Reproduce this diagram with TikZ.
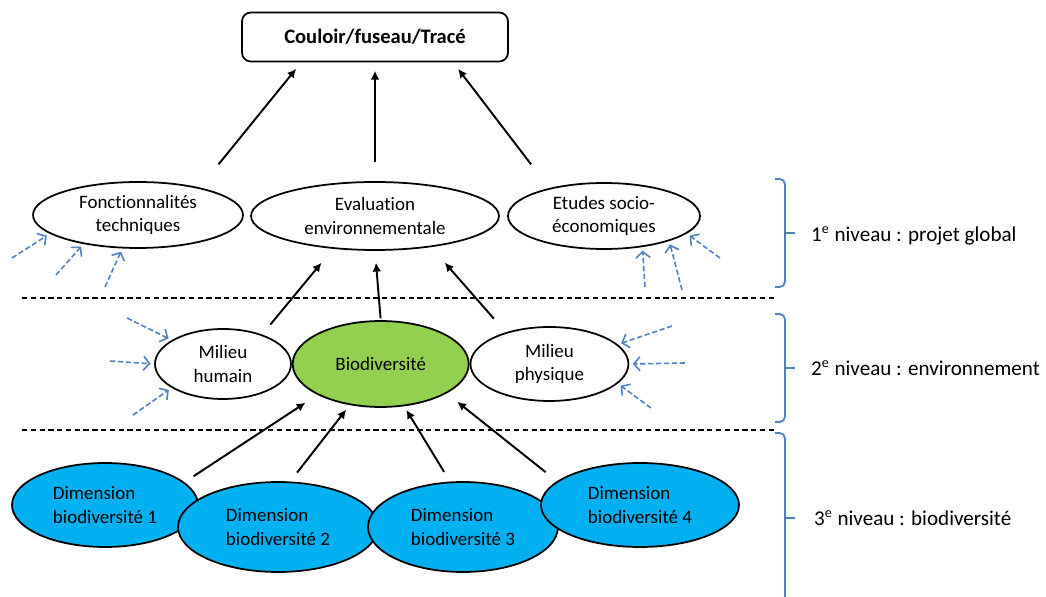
\documentclass[tikz,border=0pt]{standalone}
\usepackage{fontspec}
\setmainfont{Carlito}[Ligatures=NoCommon]
\usepackage{tikz}
\definecolor{leafGreen}{HTML}{92D050}
\definecolor{skyBlue}{HTML}{00B0F0}
\definecolor{steelBlue}{HTML}{4F81BD}
\usetikzlibrary{shapes.geometric, arrows.meta, positioning}

\begin{document}
\begin{tikzpicture}[
    x=0.02cm, y=-0.02cm,
    every node/.style={font=\fontsize{10.8}{13.3}\selectfont},
    corridorbox/.style={rectangle, rounded corners=5pt, draw, line width=1pt, minimum width=5.32cm, minimum height=0.98cm, font=\fontsize{11.7}{14}\selectfont\bfseries},
    oval/.style={ellipse, draw, line width=1pt, inner sep=0pt, align=center},
    greenoval/.style={oval, fill=leafGreen},
    blueoval/.style={oval, fill=skyBlue, align=left},
    arrow/.style={-{Latex[length=5pt, width=5pt]}, line width=1.1pt},
    influence/.style={-{Straight Barb[length=3.5pt, width=8pt]}, steelBlue, line width=0.9pt, dash pattern=on 3pt off 1.5pt, shorten >=2pt},
    sepline/.style={line width=1.1pt, dash pattern=on 3pt off 2pt},
    brace/.style={steelBlue, line width=1pt, rounded corners=3pt},
    level/.style={anchor=west, font=\fontsize{12}{14}\selectfont}
]
    \useasboundingbox (0,0) rectangle (1046,597);

    % top of the tree
    \node[corridorbox] (corridor) at (375,37) {Couloir/fuseau/Tracé};

    % 1st level
    \node[oval, minimum width=4.2cm, minimum height=1.32cm] (fonct) at (138,215) {Fonctionnalités\\techniques};
    \node[oval, minimum width=4.96cm, minimum height=1.36cm] (eval) at (375,216) {Evaluation\\environnementale};
    \node[oval, minimum width=3.84cm, minimum height=1.32cm] (etudes) at (604,216) {Etudes socio-\\économiques};

    % 2nd level
    \node[oval, minimum width=2.72cm, minimum height=1.4cm] (humain) at (223,364) {Milieu\\humain};
    \node[greenoval, minimum width=3.52cm, minimum height=1.72cm, right=0pt of humain] (biodiv) {Biodiversité};
    \node[oval, minimum width=3.16cm, minimum height=1.48cm, right=0pt of biodiv] (physique) {Milieu\\physique};

    % 3rd level
    \node[blueoval, minimum width=3.72cm, minimum height=1.68cm] (dimA) at (105,505) {Dimension\\biodiversité 1};
    \node[blueoval, minimum width=4.0cm, minimum height=1.8cm] (dimB) at (278,527) {Dimension\\biodiversité 2};
    \node[blueoval, minimum width=3.8cm, minimum height=1.8cm] (dimC) at (463,527) {Dimension\\biodiversité 3};
    \node[blueoval, minimum width=3.96cm, minimum height=1.68cm] (dimD) at (640,505) {Dimension\\biodiversité 4};

    % level separators
    \draw[sepline] (22,298) -- (775,298);
    \draw[sepline] (22,430) -- (775,430);

    % arrows between levels
    \draw[arrow, shorten <=17pt, shorten >=4.7pt] (fonct.24) -- (corridor.199);
    \draw[arrow, shorten <=10.8pt, shorten >=4.8pt] (eval.north) -- (corridor.south);
    \draw[arrow, shorten <=17pt, shorten >=4.7pt] (etudes.153) -- (corridor.342);

    \draw[arrow, shorten <=7.3pt, shorten >=10.3pt] (humain.37) -- (eval.218);
    \draw[arrow, shorten <=1pt, shorten >=6.8pt] (biodiv.north) -- (eval.south);
    \draw[arrow, shorten <=10.3pt, shorten >=11.7pt] (physique.144) -- (eval.331);

    \draw[arrow, shorten <=6.2pt, shorten >=8.2pt] (dimA.16) -- (biodiv.206);
    \draw[arrow, shorten <=6.4pt, shorten >=3.3pt] (dimB.75) -- (biodiv.233);
    \draw[arrow, shorten <=6.4pt, shorten >=2.4pt] (dimC.106) -- (biodiv.299);
    \draw[arrow, shorten <=8.2pt, shorten >=7.7pt] (dimD.164) -- (biodiv.336);

    % outside influences
    \foreach \n/\x/\y/\a in {fonct/12/258/192, fonct/56/275/208, fonct/105/287/245,
                             etudes/645/287/321, etudes/682/290/339, etudes/720/258/348,
                             humain/127/318/155, humain/110/361/180, humain/133/415/205,
                             physique/672/326/16, physique/685/363/0, physique/651/408/344} {
        \coordinate (src-\n-\a) at (\x,\y);
        \draw[influence] (src-\n-\a) -- (\n.\a);
    }

    % braces and level names
    \draw[brace] (775,179) -- (785,179) -- (785,287) -- (775,287);
    \draw[brace] (785,233) -- (795,233);
    \draw[brace] (775,314) -- (785,314) -- (785,422) -- (775,422);
    \draw[brace] (785,368) -- (795,368);
    \draw[brace] (775,433) -- (785,433) -- (785,600);
    \draw[brace] (785,518) -- (795,518);

    \node[level] (lvlone) at (805,236) {1\textsuperscript{e} niveau : projet global};
    \node[level] (lvltwo) at (805,368) {2\textsuperscript{e} niveau : environnement};
    \node[level] (lvlthree) at (808,518) {3\textsuperscript{e} niveau : biodiversité};
\end{tikzpicture}
\end{document}
